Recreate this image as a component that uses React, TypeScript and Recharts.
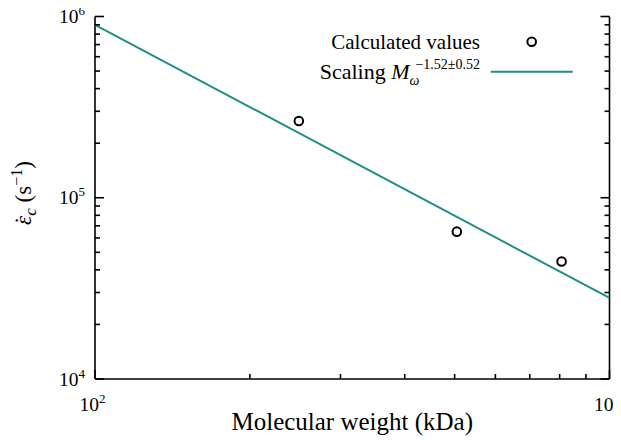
import React from "react";
import { ScatterChart, Scatter, XAxis, YAxis, Label } from "recharts";

const molecularWeights = [249, 505, 807];
const rateValues = [2.65e5, 6.5e4, 4.45e4];
const scalingX = [100, 1000];
const scalingY = [9.0e5, 2.8e4];
const xTicks = [100, 200, 300, 400, 500, 600, 700, 800, 900, 1000];
const yTicks = [
  1e4, 2e4, 3e4, 4e4, 5e4, 6e4, 7e4, 8e4, 9e4,
  1e5, 2e5, 3e5, 4e5, 5e5, 6e5, 7e5, 8e5, 9e5, 1e6,
];
const majorX: Record<number, string> = { 100: "2", 1000: "3" };
const majorY: Record<number, string> = { 10000: "4", 100000: "5", 1000000: "6" };

const pointData = molecularWeights.map((x, i) => ({ x, y: rateValues[i] }));
const lineData = scalingX.map((x, i) => ({ x, y: scalingY[i] }));

const FONT = "Liberation Serif";
const TEAL = "#1f8f87";
const MAJOR = 9;
const MINOR = 5;
const TICK_COLOR = "#000";
const TICK_W = 1.6;

const W = 621;
const H = 440;
const M_TOP = 16.5;
const LEFT_W = 95;
const RIGHT_W = 11.5;
const BOTTOM_H = 61;
const PLOT_L = LEFT_W;
const PLOT_R = W - RIGHT_W;
const PLOT_T = M_TOP;
const PLOT_B = H - BOTTOM_H;

const renderXBottom = (p: any) => {
  const v = p.payload.value;
  const x = p.payload.coordinate ?? p.x;
  const y = PLOT_B;
  const exp = majorX[v];
  const len = exp ? MAJOR : MINOR;
  return (
    <g key={`xb-${v}`}>
      <path d={`M${x},${y}V${y - len}`} stroke={TICK_COLOR} strokeWidth={TICK_W} fill="none" />
      {exp && (
        <text x={x - 2.5} y={y + 32} textAnchor="middle" fontSize={19.5} fontFamily={FONT} fill="#000">
          10<tspan dy={-8} fontSize={13}>{exp}</tspan>
        </text>
      )}
    </g>
  );
};

const renderXTop = (p: any) => {
  const v = p.payload.value;
  const x = p.payload.coordinate ?? p.x;
  const y = PLOT_T;
  const len = majorX[v] ? MAJOR : MINOR;
  return (
    <g key={`xt-${v}`}>
      <path d={`M${x},${y}V${y + len}`} stroke={TICK_COLOR} strokeWidth={TICK_W} fill="none" />
    </g>
  );
};

const renderYLeft = (p: any) => {
  const v = p.payload.value;
  const y = p.payload.coordinate ?? p.y;
  const x = PLOT_L;
  const exp = majorY[v];
  const len = exp ? MAJOR : MINOR;
  return (
    <g key={`yl-${v}`}>
      <path d={`M${x},${y}H${x + len}`} stroke={TICK_COLOR} strokeWidth={TICK_W} fill="none" />
      {exp && (
        <text x={x - 10} y={y + 6.5} textAnchor="end" fontSize={19.5} fontFamily={FONT} fill="#000">
          10<tspan dy={-8} fontSize={13}>{exp}</tspan>
        </text>
      )}
    </g>
  );
};

const renderYRight = (p: any) => {
  const v = p.payload.value;
  const y = p.payload.coordinate ?? p.y;
  const x = PLOT_R;
  const len = majorY[v] ? MAJOR : MINOR;
  return (
    <g key={`yr-${v}`}>
      <path d={`M${x},${y}H${x - len}`} stroke={TICK_COLOR} strokeWidth={TICK_W} fill="none" />
    </g>
  );
};

const XTitle = () => {
  const cx = (PLOT_L + PLOT_R) / 2;
  return (
    <text x={cx} y={PLOT_B + 51} textAnchor="middle" fontSize={25} fontFamily={FONT} fill="#000">
      Molecular weight (kDa)
    </text>
  );
};

const YTitle = () => {
  const cx = 31;
  const cy = 193;
  return (
    <text
      x={cx}
      y={cy}
      transform={`rotate(-90 ${cx} ${cy})`}
      textAnchor="middle"
      fontSize={23}
      fontFamily={FONT}
      fill="#000"
    >
      <tspan fontStyle="italic">{"\u03B5"}</tspan>
      <tspan dx={-8.5}>{"\u02D9"}</tspan>
      <tspan fontStyle="italic" fontSize={17} dx={1} dy={5}>c</tspan>
      <tspan dy={-5}>{" (s"}</tspan>
      <tspan fontSize={16} dy={-9}>{"\u22121"}</tspan>
      <tspan dy={9}>)</tspan>
    </text>
  );
};

const Ring = (p: any) => {
  const { cx, cy } = p;
  if (cx == null || cy == null) return <g />;
  return <circle cx={cx} cy={cy} r={4.3} fill="none" stroke="#000" strokeWidth={2} />;
};

const Nothing = () => <g />;

const axisLine = { stroke: "#000", strokeWidth: 1.6 };

export default function App() {
  return (
    <div style={{ position: "relative", width: W, height: H, margin: "-8px 0 0 -8px" }}>
      <ScatterChart width={W} height={H} margin={{ top: M_TOP, right: 0, bottom: 0, left: 0 }}>
        <XAxis
          xAxisId="b"
          type="number"
          dataKey="x"
          scale="log"
          domain={[100, 1000]}
          allowDataOverflow
          ticks={xTicks}
          interval={0}
          tick={renderXBottom}
          tickLine={false}
          height={BOTTOM_H}
          axisLine={axisLine}
          orientation="bottom"
        >
          <Label content={<XTitle />} />
        </XAxis>
        <XAxis
          xAxisId="t"
          type="number"
          dataKey="x"
          scale="log"
          domain={[100, 1000]}
          allowDataOverflow
          ticks={xTicks}
          interval={0}
          tick={renderXTop}
          tickLine={false}
          height={0}
          axisLine={axisLine}
          orientation="top"
        />
        <YAxis
          yAxisId="l"
          type="number"
          dataKey="y"
          scale="log"
          domain={[1e4, 1e6]}
          allowDataOverflow
          ticks={yTicks}
          interval={0}
          tick={renderYLeft}
          tickLine={false}
          width={LEFT_W}
          axisLine={axisLine}
          orientation="left"
        >
          <Label content={<YTitle />} />
        </YAxis>
        <YAxis
          yAxisId="r"
          type="number"
          dataKey="y"
          scale="log"
          domain={[1e4, 1e6]}
          allowDataOverflow
          ticks={yTicks}
          interval={0}
          tick={renderYRight}
          tickLine={false}
          width={RIGHT_W}
          axisLine={axisLine}
          orientation="right"
        />
        <Scatter
          xAxisId="b"
          yAxisId="l"
          data={lineData}
          fill={TEAL}
          line={{ stroke: TEAL, strokeWidth: 2 }}
          shape={<Nothing />}
          isAnimationActive={false}
        />
        <Scatter
          xAxisId="b"
          yAxisId="l"
          data={pointData}
          fill="none"
          shape={<Ring />}
          isAnimationActive={false}
        />
      </ScatterChart>
      <svg
        width={W}
        height={100}
        style={{ position: "absolute", left: 0, top: 0, pointerEvents: "none" }}
      >
        <text x={480} y={49} textAnchor="end" fontSize={21} fontFamily={FONT} fill="#000">
          Calculated values
        </text>
        <circle cx={531.7} cy={41.7} r={4.3} fill="none" stroke="#000" strokeWidth={2} />
        <text x={480} y={78.5} textAnchor="end" fontSize={22} fontFamily={FONT} fill="#000">
          {"Scaling "}
          <tspan fontStyle="italic">M</tspan>
          <tspan fontStyle="italic" fontSize={14} dy={6}>{"\u03C9"}</tspan>
          <tspan fontSize={14} dx={-4} dy={-16}>{"\u22121.52\u00B10.52"}</tspan>
        </text>
        <line x1={490.7} x2={572.7} y1={71.7} y2={71.7} stroke={TEAL} strokeWidth={2} />
      </svg>
    </div>
  );
}
